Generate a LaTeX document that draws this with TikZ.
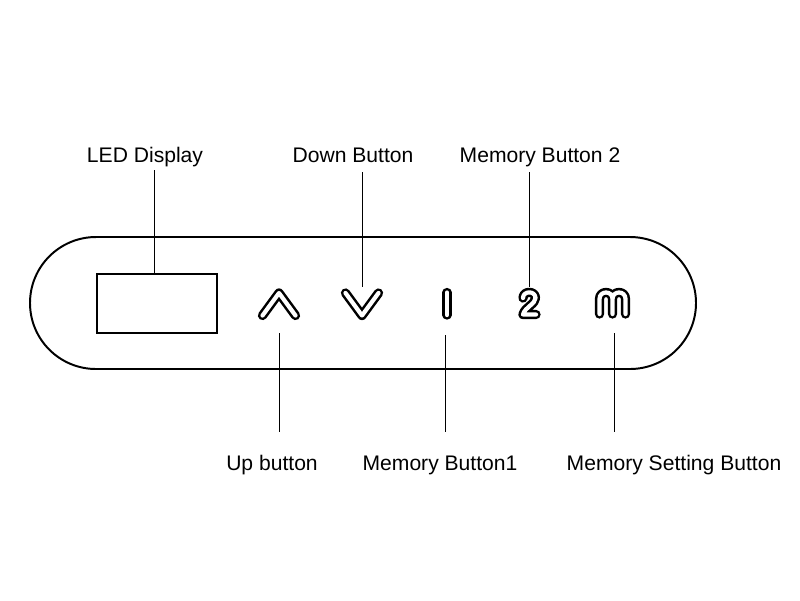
\documentclass[tikz,border=0pt]{standalone}
\usepackage{fontspec}
\setmainfont{Liberation Sans}
\usetikzlibrary{positioning}
\tikzset{
  lbl/.style={font=\fontsize{15}{18}\selectfont,anchor=base,inner sep=0pt},
  lead/.style={line width=0.6pt},
  panel/.style={draw,line width=1.4pt,rounded corners=1.65cm},
  ledframe/.style={draw,line width=1.5pt,minimum width=3cm,minimum height=1.475cm,inner sep=0pt},
  icon/.style={double=white,line width=1.8pt,double distance=3pt,line cap=round,line join=round},
}
\begin{document}
\begin{tikzpicture}[x=0.025cm,y=-0.025cm]
  \useasboundingbox (0,0) rectangle (800,600);
  % panel and display
  \draw[panel] (30,237) rectangle (696,369);
  \node[ledframe] (ledbox) at (157,303.5) {};
  % button icons
  \draw[icon] (262.5,315.5) -- (279,293) -- (295.5,315.5);
  \draw[icon] (345.5,293) -- (362,315.5) -- (378.5,293);
  \draw[icon] (447,292.5) -- (447,315);
  \draw[icon] (523,298) .. controls (523,290.5) and (535.5,290.5) .. (535.5,298)
     .. controls (535.5,304) and (525,307) .. (523,314.5) -- (536,314.5);
  \draw[icon] (599.5,314) -- (599.5,299) .. controls (599.5,290.3) and (612.5,290.3) .. (612.5,299)
     -- (612.5,314) -- (612.5,299) .. controls (612.5,290.3) and (625.5,290.3) .. (625.5,299) -- (625.5,314);
  % labels
  \node[lbl] (ledlbl) at (145,162) {LED Display};
  \node[lbl] (downlbl) at (353,162) {Down Button};
  \node[lbl] (mem2lbl) at (540,162) {Memory Button 2};
  \node[lbl] (uplbl) at (272,470) {Up button};
  \node[lbl] (mem1lbl) at (440,470) {Memory Button1};
  \node[lbl] (setlbl) at (674,470) {Memory Setting Button};
  % lead ends
  \coordinate (ledtop) at (154,170);
  \coordinate (downtop) at (362,172);
  \coordinate (downicon) at (362,287);
  \coordinate (mem2top) at (529,172);
  \coordinate (mem2icon) at (529,287);
  \coordinate (upicon) at (279,333);
  \coordinate (upfoot) at (279,432);
  \coordinate (mem1icon) at (445,335);
  \coordinate (mem1foot) at (445,432);
  \coordinate (seticon) at (614,333);
  \coordinate (setfoot) at (614,432);
  % leads
  \draw[lead] (ledtop) -- (ledtop |- ledbox.north);
  \draw[lead] (downtop) -- (downicon);
  \draw[lead] (mem2top) -- (mem2icon);
  \draw[lead] (upicon) -- (upfoot);
  \draw[lead] (mem1icon) -- (mem1foot);
  \draw[lead] (seticon) -- (setfoot);
\end{tikzpicture}
\end{document}
